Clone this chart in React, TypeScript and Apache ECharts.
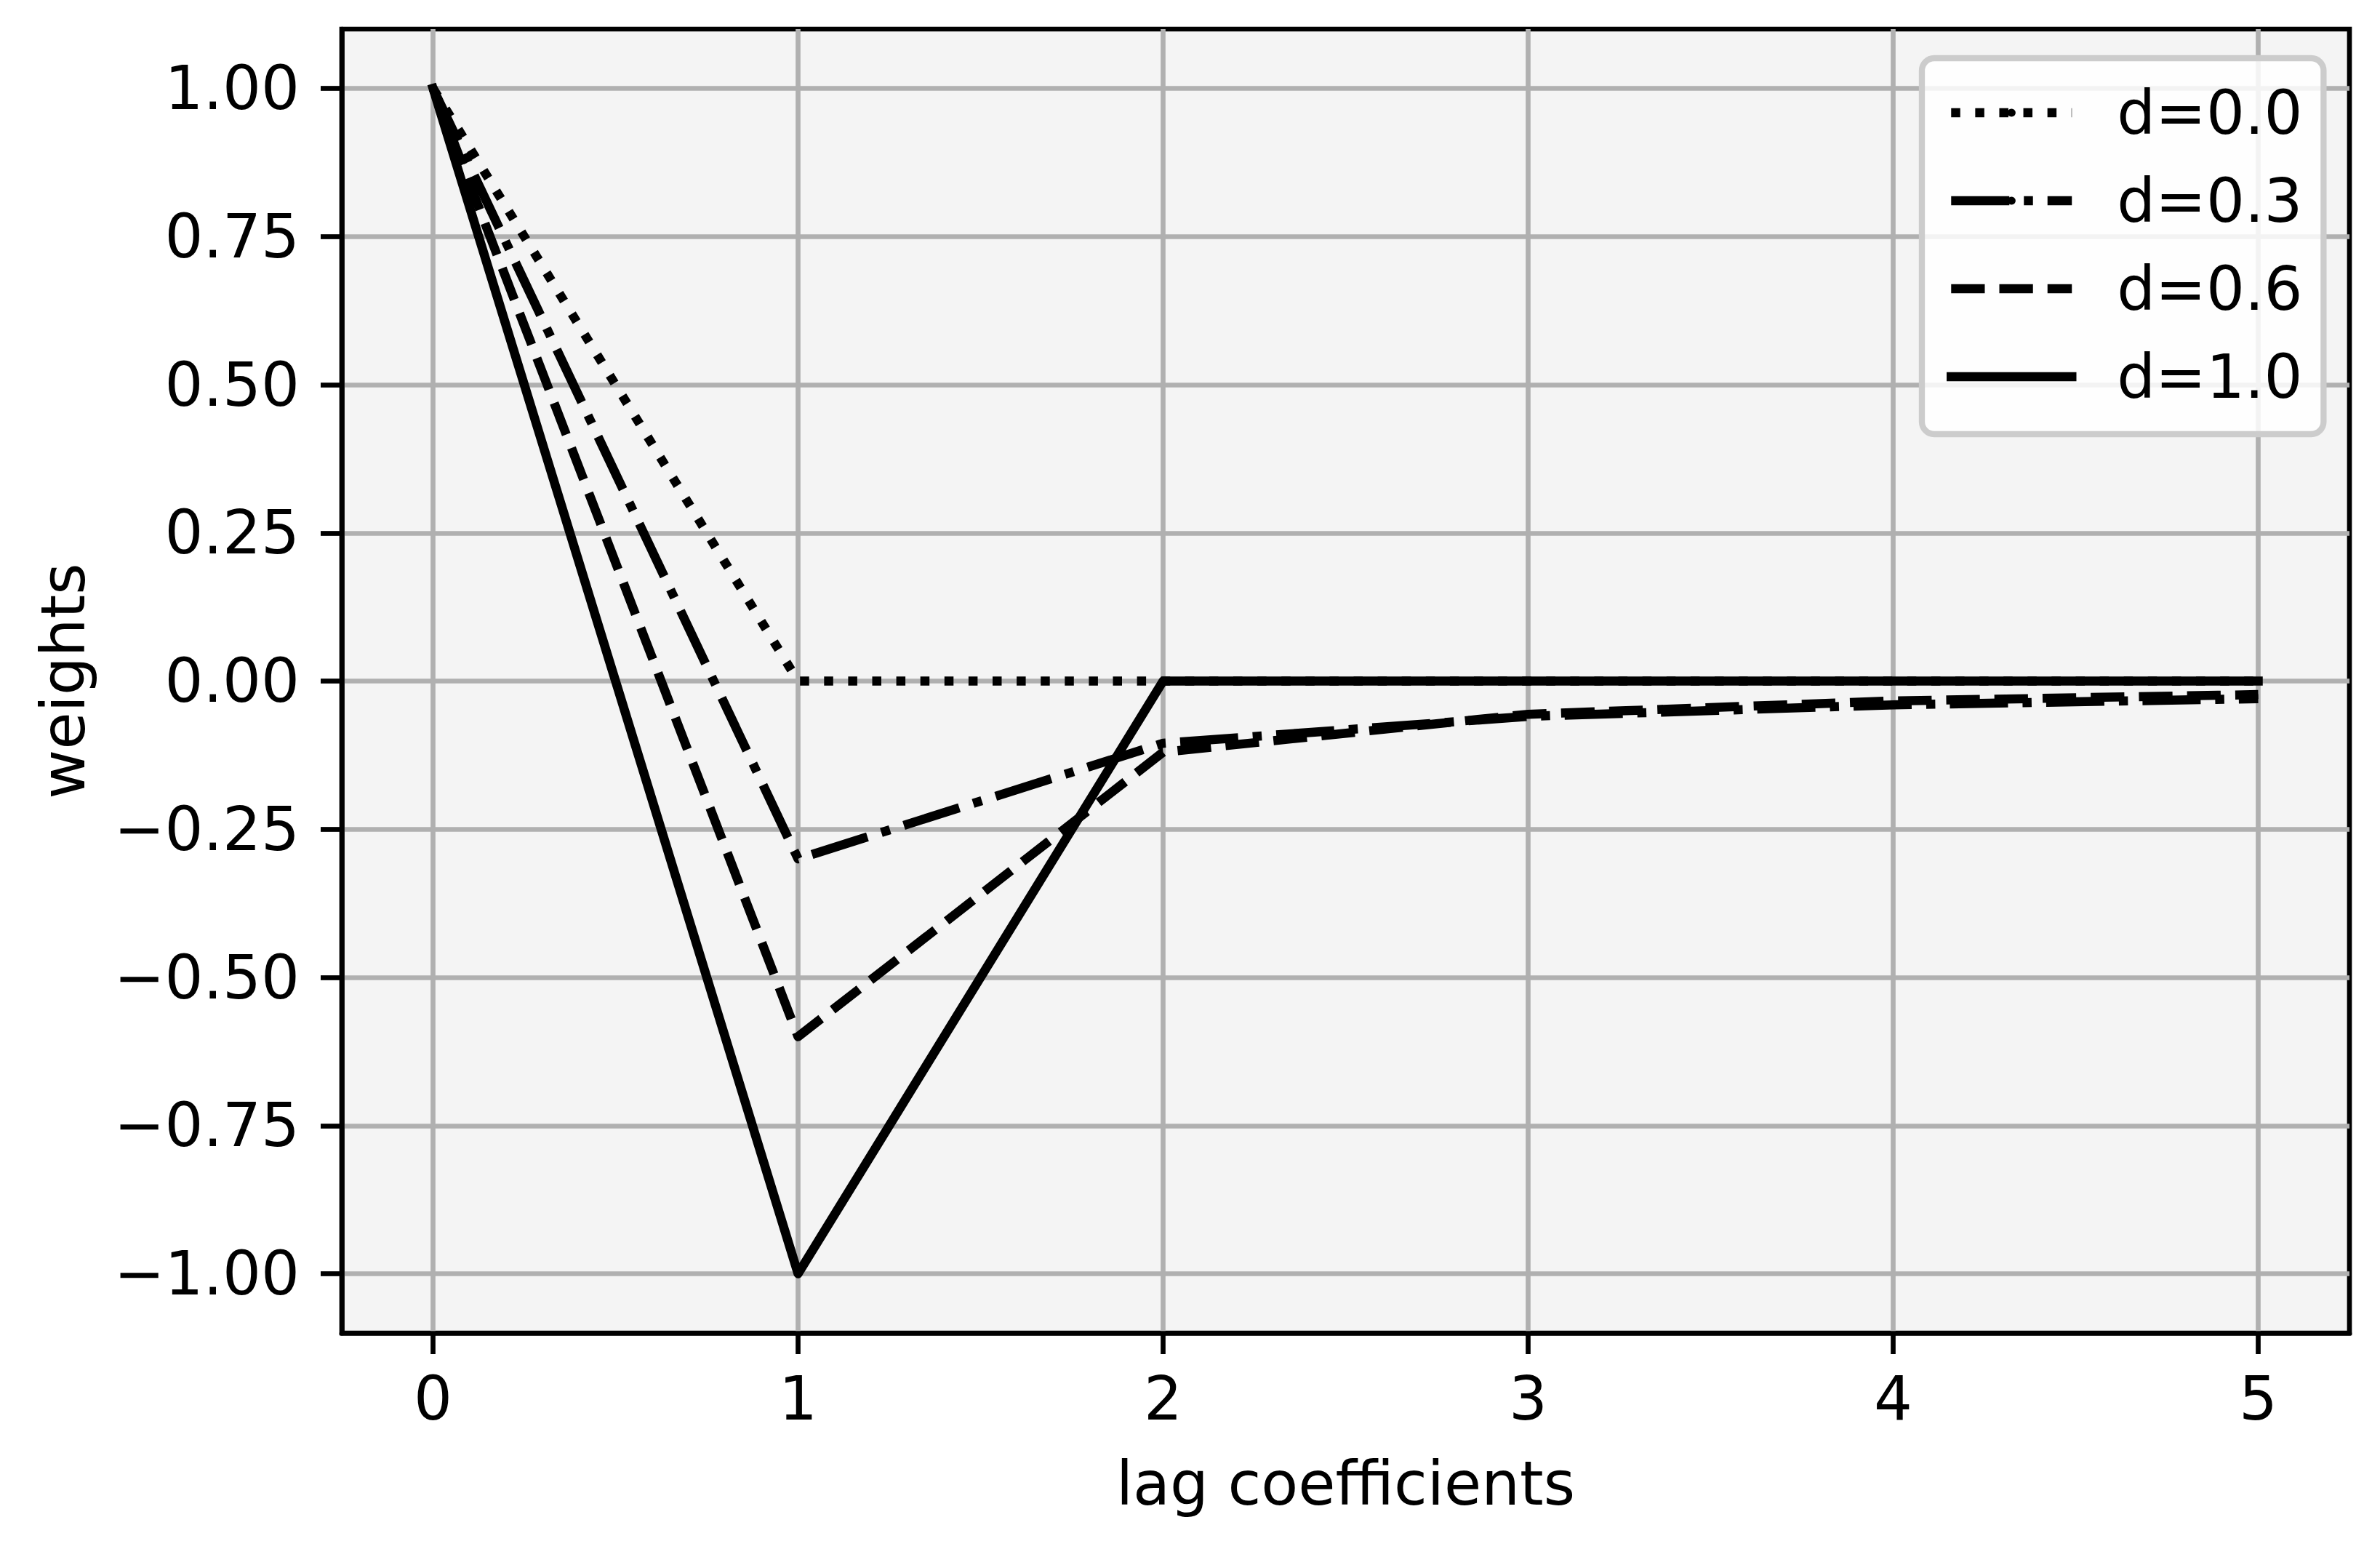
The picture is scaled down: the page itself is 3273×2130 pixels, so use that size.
import React, { useEffect, useRef } from "react";
import * as echarts from "echarts";

const lags = [0, 1, 2, 3, 4, 5];
const seriesNames = ["d=0.0", "d=0.3", "d=0.6", "d=1.0"];
const weightsD00 = [1, 0, 0, 0, 0, 0];
const weightsD03 = [1, -0.3, -0.105, -0.0595, -0.0402, -0.0297];
const weightsD06 = [1, -0.6, -0.12, -0.056, -0.0336, -0.0228];
const weightsD10 = [1, -1, 0, 0, 0, 0];
const xTicks = [0, 1, 2, 3, 4, 5];
const yTicks = [-1, -0.75, -0.5, -0.25, 0, 0.25, 0.5, 0.75, 1];

const W = 3273;
const H = 2130;
const FS = 83.3;
const LW = 12.5;
const FONT = "DejaVu Sans";

const dashStyles: any[] = [
  { type: [12.5, 20.6], cap: "butt" },
  { type: [80, 20, 12.5, 20], cap: "butt" },
  { type: [46.25, 20], cap: "butt" },
  { type: "solid", cap: "square" },
];

const fmtY = (v: number) => {
  const s = Math.abs(v).toFixed(2);
  return v < -1e-9 ? "\u2212" + s : s;
};

export default function App() {
  const ref = useRef<HTMLDivElement>(null);
  useEffect(() => {
    if (!ref.current) return;
    const chart = echarts.init(ref.current, null, { renderer: "svg", width: W, height: H });
    const allData = [weightsD00, weightsD03, weightsD06, weightsD10];
    const series = allData.map((vals, i) => ({
      name: seriesNames[i],
      type: "line",
      data: lags.map((x, j) => [x, vals[j]]),
      symbol: "none",
      showSymbol: false,
      clip: true,
      z: 3 + i,
      color: "#000000",
      itemStyle: { color: "#000000" },
      lineStyle: {
        color: "#000000",
        width: LW,
        type: dashStyles[i].type,
        cap: dashStyles[i].cap,
        join: "round",
      },
      emphasis: { disabled: true },
    }));
    chart.setOption({
      animation: false,
      backgroundColor: "#ffffff",
      color: ["#000000"],
      textStyle: { fontFamily: FONT },
      grid: {
        left: 470,
        top: 40,
        width: 2761,
        height: 1793,
        show: true,
        backgroundColor: "#f4f4f4",
        borderColor: "#000000",
        borderWidth: 6.7,
        containLabel: false,
        outerBoundsMode: "none",
      },
      legend: {
        show: true,
        orient: "vertical",
        left: 2643,
        top: 80,
        align: "left",
        padding: [25, 29, 29, 34],
        itemGap: 21,
        itemWidth: 166,
        itemHeight: 14,
        backgroundColor: "rgba(255,255,255,0.85)",
        borderColor: "#cccccc",
        borderWidth: 8.3,
        borderRadius: 17,
        lineStyle: { width: LW },
        itemStyle: { color: "#000000", borderWidth: 0 },
        textStyle: {
          fontFamily: FONT,
          fontSize: FS,
          color: "#000000",
          lineHeight: 100,
          padding: [0, 0, 0, 57],
        },
        data: seriesNames,
        selectedMode: false,
      },
      xAxis: {
        type: "value",
        min: -0.25,
        max: 5.25,
        name: "lag coefficients",
        nameLocation: "middle",
        nameGap: 166,
        nameTextStyle: { fontFamily: FONT, fontSize: FS, color: "#000000" },
        axisLine: { show: true, onZero: false, lineStyle: { color: "#000000", width: 6.7 } },
        axisTick: {
          show: true,
          inside: false,
          length: 29,
          customValues: xTicks,
          lineStyle: { color: "#000000", width: 6.7 },
        },
        axisLabel: {
          show: true,
          margin: 49,
          customValues: xTicks,
          fontFamily: FONT,
          fontSize: FS,
          color: "#000000",
          formatter: (v: number) => String(v),
        },
        splitLine: { show: true, lineStyle: { color: "#b0b0b0", width: 6.7 } },
      },
      yAxis: {
        type: "value",
        min: -1.1,
        max: 1.1,
        name: "weights",
        nameLocation: "middle",
        nameGap: 341,
        nameRotate: 90,
        nameTextStyle: { fontFamily: FONT, fontSize: FS, color: "#000000" },
        axisLine: { show: true, onZero: false, lineStyle: { color: "#000000", width: 6.7 } },
        axisTick: {
          show: true,
          inside: false,
          length: 29,
          customValues: yTicks,
          lineStyle: { color: "#000000", width: 6.7 },
        },
        axisLabel: {
          show: true,
          margin: 58,
          customValues: yTicks,
          fontFamily: FONT,
          fontSize: FS,
          color: "#000000",
          formatter: (v: number) => fmtY(v),
        },
        splitLine: { show: true, lineStyle: { color: "#b0b0b0", width: 6.7 } },
      },
      series,
    });
    return () => chart.dispose();
  }, []);
  return (
    <div
      ref={ref}
      style={{ position: "fixed", left: 0, top: 0, width: W + "px", height: H + "px", background: "#fff" }}
    />
  );
}
